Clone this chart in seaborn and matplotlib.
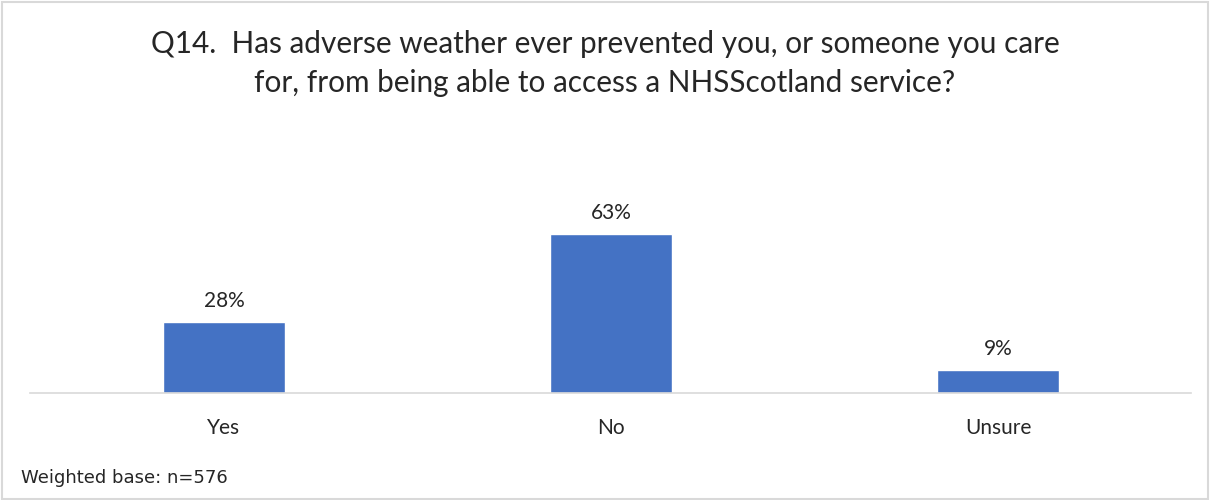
import matplotlib
matplotlib.use('Agg')
import pandas as pd
import seaborn as sns
import matplotlib.pyplot as plt

categories = ['Yes', 'No', 'Unsure']
percentages = [28, 63, 9]
title_text = ('Q14.  Has adverse weather ever prevented you, or someone you care\n'
              'for, from being able to access a NHSScotland service?')
footnote = 'Weighted base: n=576'

sns.set_theme(style='white')
plt.rcParams['font.family'] = ['Lato', 'DejaVu Sans']

df = pd.DataFrame({'answer': categories, 'pct': percentages})

fig = plt.figure(figsize=(12.1, 5.0), dpi=100)
ax = fig.add_axes([0.0252, 0.214, 0.9595, 0.504])

sns.barplot(x='answer', y='pct', data=df, color='#4472C4', width=0.315,
            saturation=1, ax=ax)
ax.set_xlim(-0.5, 2.5)
ax.set_ylim(0, 100)

# etiquetas de valor
for i, v in enumerate(percentages):
    ax.text(i, v + 4.5, f'{v}%', ha='center', va='bottom', fontsize=15, color='#262626')

ax.set_xlabel('')
ax.set_ylabel('')
ax.set_yticks([])
ax.tick_params(axis='x', length=0, pad=18, labelsize=15, labelcolor='#262626')
for s in ['top', 'right', 'left']:
    ax.spines[s].set_visible(False)
ax.spines['bottom'].set_color('#d9d9d9')
ax.spines['bottom'].set_linewidth(1.2)

fig.text(0.5, 0.873, title_text, ha='center', va='center', fontsize=21.4,
         color='#262626', linespacing=1.5)
fig.text(0.017, 0.044, footnote, ha='left', va='center', fontsize=13,
         color='#262626', family=['DejaVu Sans'])

# borda do gráfico
fig.patches.append(plt.Rectangle((0.002, 0.003), 0.996, 0.994, transform=fig.transFigure,
                                 fill=False, edgecolor='#d9d9d9', linewidth=1.5))

fig.savefig('out.png', dpi=100)
